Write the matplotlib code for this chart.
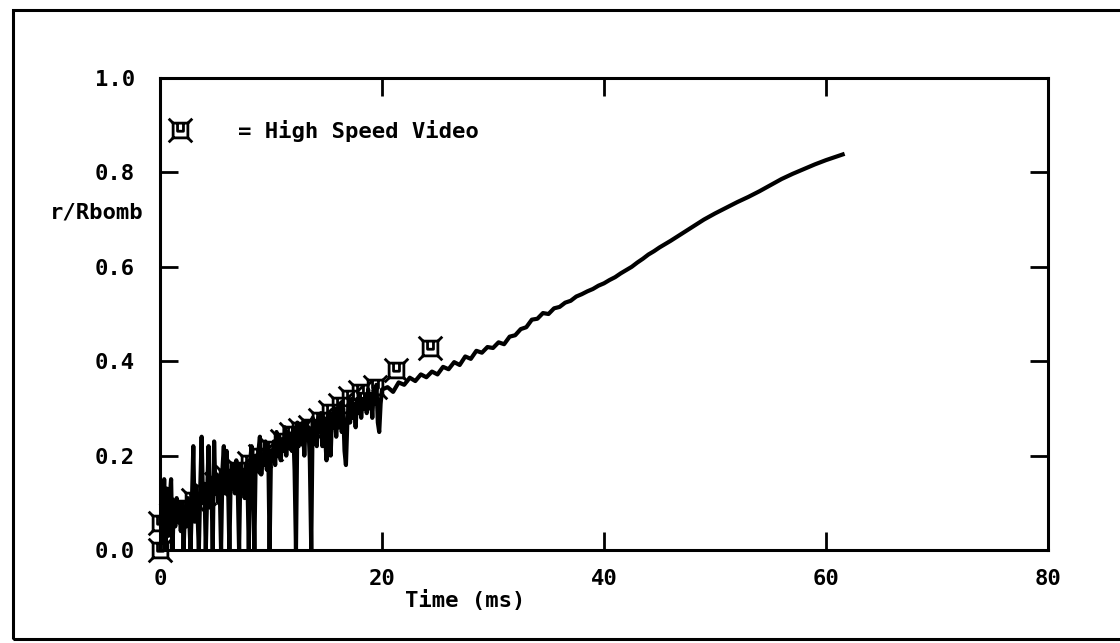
import numpy as np
import matplotlib
matplotlib.use("Agg")
import matplotlib.pyplot as plt
from matplotlib.path import Path
from matplotlib.patches import Rectangle

# bubble radius trace, early noisy part (0-20 ms, 0.125 ms sampling)
t_early = [0.000, 0.125, 0.250, 0.375, 0.500, 0.625, 0.750, 0.875,
           1.000, 1.125, 1.250, 1.375, 1.500, 1.625, 1.750, 1.875,
           2.000, 2.125, 2.250, 2.375, 2.500, 2.625, 2.750, 2.875,
           3.000, 3.125, 3.250, 3.375, 3.500, 3.625, 3.750, 3.875,
           4.000, 4.125, 4.250, 4.375, 4.500, 4.625, 4.750, 4.875,
           5.000, 5.125, 5.250, 5.375, 5.500, 5.625, 5.750, 5.875,
           6.000, 6.125, 6.250, 6.375, 6.500, 6.625, 6.750, 6.875,
           7.000, 7.125, 7.250, 7.375, 7.500, 7.625, 7.750, 7.875,
           8.000, 8.125, 8.250, 8.375, 8.500, 8.625, 8.750, 8.875,
           9.000, 9.125, 9.250, 9.375, 9.500, 9.625, 9.750, 9.875,
           10.000, 10.125, 10.250, 10.375, 10.500, 10.625, 10.750, 10.875,
           11.000, 11.125, 11.250, 11.375, 11.500, 11.625, 11.750, 11.875,
           12.000, 12.125, 12.250, 12.375, 12.500, 12.625, 12.750, 12.875,
           13.000, 13.125, 13.250, 13.375, 13.500, 13.625, 13.750, 13.875,
           14.000, 14.125, 14.250, 14.375, 14.500, 14.625, 14.750, 14.875,
           15.000, 15.125, 15.250, 15.375, 15.500, 15.625, 15.750, 15.875,
           16.000, 16.125, 16.250, 16.375, 16.500, 16.625, 16.750, 16.875,
           17.000, 17.125, 17.250, 17.375, 17.500, 17.625, 17.750, 17.875,
           18.000, 18.125, 18.250, 18.375, 18.500, 18.625, 18.750, 18.875,
           19.000, 19.125, 19.250, 19.375, 19.500, 19.625, 19.750, 19.875,
           20.000]
r_early = [0.00, 0.12, 0.02, 0.15, 0.00, 0.13, 0.03, 0.11,
           0.15, 0.00, 0.10, 0.05, 0.11, 0.06, 0.09, 0.04,
           0.10, 0.00, 0.09, 0.05, 0.11, 0.07, 0.00, 0.10,
           0.22, 0.06, 0.12, 0.08, 0.00, 0.13, 0.24, 0.10,
           0.14, 0.00, 0.12, 0.22, 0.09, 0.15, 0.00, 0.23,
           0.12, 0.16, 0.10, 0.14, 0.00, 0.17, 0.22, 0.12,
           0.21, 0.15, 0.00, 0.16, 0.13, 0.18, 0.12, 0.19,
           0.14, 0.00, 0.18, 0.13, 0.17, 0.11, 0.18, 0.15,
           0.00, 0.19, 0.22, 0.16, 0.00, 0.20, 0.17, 0.21,
           0.24, 0.16, 0.20, 0.18, 0.23, 0.17, 0.22, 0.00,
           0.21, 0.19, 0.23, 0.18, 0.25, 0.20, 0.24, 0.19,
           0.23, 0.21, 0.26, 0.20, 0.25, 0.22, 0.24, 0.21,
           0.26, 0.17, 0.00, 0.27, 0.22, 0.26, 0.23, 0.27,
           0.20, 0.27, 0.24, 0.26, 0.19, 0.00, 0.28, 0.24,
           0.27, 0.22, 0.28, 0.25, 0.29, 0.22, 0.28, 0.24,
           0.19, 0.29, 0.25, 0.20, 0.29, 0.26, 0.30, 0.24,
           0.30, 0.26, 0.31, 0.25, 0.30, 0.21, 0.18, 0.27,
           0.31, 0.27, 0.32, 0.28, 0.31, 0.26, 0.32, 0.29,
           0.33, 0.28, 0.32, 0.30, 0.33, 0.29, 0.34, 0.30,
           0.33, 0.28, 0.34, 0.31, 0.35, 0.27, 0.25, 0.31,
           0.34]

# later, smoother part (20-61.5 ms)
t_late = [20.5, 21.0, 21.5, 22.0, 22.5, 23.0, 23.5, 24.0, 24.5, 25.0,
          25.5, 26.0, 26.5, 27.0, 27.5, 28.0, 28.5, 29.0, 29.5, 30.0,
          30.5, 31.0, 31.5, 32.0, 32.5, 33.0, 33.5, 34.0, 34.5, 35.0,
          35.5, 36.0, 36.5, 37.0, 37.5, 38.0, 38.5, 39.0, 39.5, 40.0,
          40.5, 41.0, 41.5, 42.0, 42.5, 43.0, 43.5, 44.0, 44.5, 45.0,
          46.0, 47.0, 48.0, 49.0, 50.0, 51.0, 52.0, 53.0, 54.0, 55.0,
          56.0, 57.0, 58.0, 59.0, 60.0, 61.0, 61.5]
r_late = [0.345, 0.335, 0.355, 0.350, 0.365, 0.358, 0.372, 0.366, 0.378, 0.372,
          0.388, 0.383, 0.398, 0.392, 0.410, 0.405, 0.422, 0.418, 0.430, 0.428,
          0.440, 0.436, 0.452, 0.455, 0.468, 0.472, 0.488, 0.490, 0.502, 0.500,
          0.512, 0.515, 0.524, 0.528, 0.537, 0.542, 0.548, 0.553, 0.560, 0.565,
          0.572, 0.578, 0.586, 0.593, 0.600, 0.609, 0.617, 0.626, 0.633, 0.641,
          0.655, 0.670, 0.685, 0.700, 0.713, 0.725, 0.737, 0.748, 0.760, 0.773,
          0.786, 0.797, 0.807, 0.817, 0.826, 0.834, 0.838]

# high speed video measurements
t_video = [0.0, 0.0, 1.0, 2.0, 3.0, 4.0, 5.0, 6.0, 7.0, 8.0, 9.0, 10.0,
           11.0, 11.8, 12.6, 13.5, 14.4, 15.3, 16.2, 17.1, 18.0, 19.4, 21.3, 24.3]
r_video = [0.000, 0.057, 0.075, 0.090, 0.105, 0.120, 0.140, 0.155, 0.170, 0.185,
           0.200, 0.215, 0.230, 0.245, 0.254, 0.261, 0.275, 0.293, 0.307, 0.322,
           0.335, 0.346, 0.381, 0.427]

x_ticks = [0, 20, 40, 60, 80]
y_ticks = [0.0, 0.2, 0.4, 0.6, 0.8, 1.0]

FONT = dict(family="DejaVu Sans Mono", weight="bold", size=16)

# square marker with corner ticks and a small cup inside
verts = [(-1, -1), (1, -1), (1, 1), (-1, 1), (-1, -1),
         (1, 1), (1.6, 1.6), (-1, 1), (-1.6, 1.6),
         (1, -1), (1.6, -1.6), (-1, -1), (-1.6, -1.6),
         (-0.4, 1), (-0.4, -0.1), (0.4, -0.1), (0.4, 1)]
codes = [Path.MOVETO, Path.LINETO, Path.LINETO, Path.LINETO, Path.LINETO,
         Path.MOVETO, Path.LINETO, Path.MOVETO, Path.LINETO,
         Path.MOVETO, Path.LINETO, Path.MOVETO, Path.LINETO,
         Path.MOVETO, Path.LINETO, Path.LINETO, Path.LINETO]
video_marker = Path(verts, codes)

fig = plt.figure(figsize=(11.2, 6.43), dpi=100)
ax = fig.add_axes([160 / 1120, 93 / 643, 888 / 1120, 472 / 643])

t_all = t_early + t_late
r_all = r_early + r_late
ax.plot(t_all, r_all, color="black", lw=3.0, solid_joinstyle="round")
ax.plot(t_video, r_video, linestyle="none", marker=video_marker, ms=17,
        mec="black", mfc="none", mew=2.0, clip_on=False, zorder=3)

ax.set_xlim(0, 80)
ax.set_ylim(0, 1.0)
ax.set_xticks(x_ticks)
ax.set_yticks(y_ticks)
ax.set_xticklabels([str(v) for v in x_ticks], fontdict=FONT)
ax.set_yticklabels([f"{v:.1f}" for v in y_ticks], fontdict=FONT)
ax.tick_params(direction="in", length=13, width=2, top=True, right=True,
               pad=14)
ax.tick_params(axis="y", pad=18)
for sp in ax.spines.values():
    sp.set_linewidth(2.2)

ax.text(-1.5, 0.714, "r/Rbomb", ha="right", va="center", **FONT)
ax.text(27.5, -0.108, "Time (ms)", ha="center", va="center", **FONT)

# legend entry drawn by hand
ax.plot([1.8], [0.89], linestyle="none", marker=video_marker, ms=17,
        mec="black", mfc="none", mew=2.0)
ax.text(7.0, 0.887, "= High Speed Video", ha="left", va="center", **FONT)

# outer frame
fig.patches.append(Rectangle((13 / 1120, 4 / 643), 1.2, 629 / 643,
                             transform=fig.transFigure, fill=False,
                             edgecolor="black", lw=2.2))

fig.savefig("out.png", dpi=100)
